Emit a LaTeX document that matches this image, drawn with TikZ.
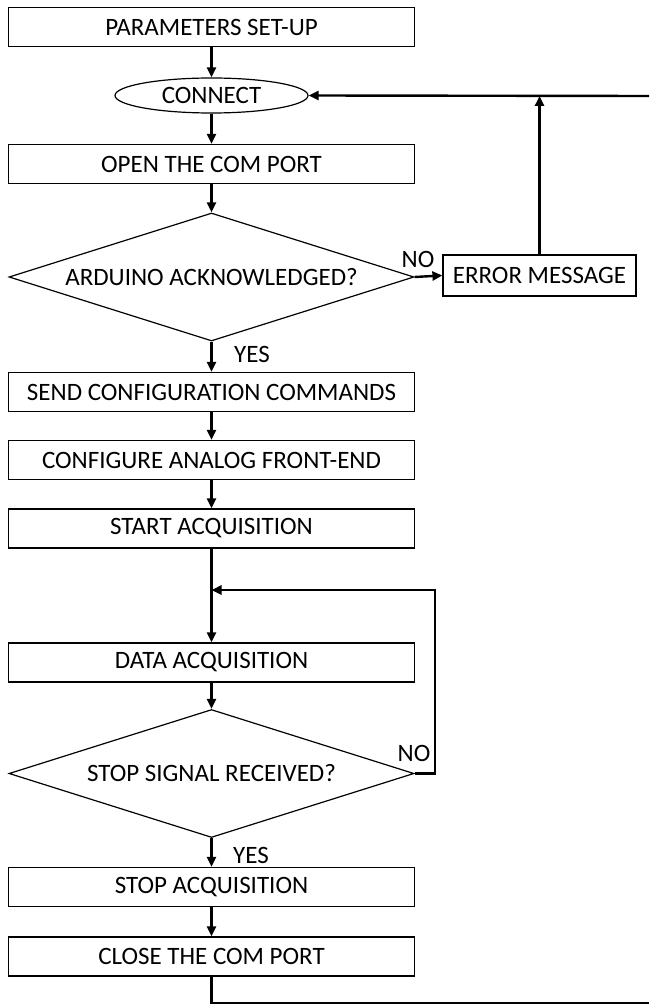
\documentclass[tikz,border=0pt]{standalone}
\usepackage{fontspec}
\setmainfont{Carlito}
\usetikzlibrary{shapes.geometric,arrows.meta}

\begin{document}
\begin{tikzpicture}[x=0.5pt,y=-0.5pt,
    font=\fontsize{12.5}{14}\selectfont,
    block/.style={draw, line width=0.6pt, minimum width=203pt, minimum height=19.5pt, inner sep=0pt},
    decision/.style={draw, diamond, aspect=3.16, line width=0.6pt, minimum width=202.5pt, minimum height=64pt, inner sep=0pt},
    startend/.style={draw, ellipse, line width=0.6pt, minimum width=96.5pt, minimum height=17.5pt, inner sep=0pt},
    flow/.style={line width=1.2pt, -{Triangle[length=5pt,width=4.5pt]}},
    link/.style={line width=1.2pt}]

      % Page frame
      \useasboundingbox (0,0) rectangle (649,1005);

      % Set-up and connection
      \node[block] (setup) at (211.5,27) {PARAMETERS SET-UP};
      \node[startend] (connect) at (211.5,95.5) {CONNECT};
      \node[block] (openport) at (211.5,164) {OPEN THE COM PORT};
      \node[decision] (ack) at (211.5,277) {ARDUINO ACKNOWLEDGED?};
      \node[block, minimum width=96.5pt, minimum height=20.5pt] (error) at (539.5,275.5) {ERROR MESSAGE};

      % Configuration
      \node[block] (send) at (211.5,392) {SEND CONFIGURATION COMMANDS};
      \node[block] (configure) at (211.5,460) {CONFIGURE ANALOG FRONT-END};
      \node[block] (start) at (211.5,528.5) {START ACQUISITION};

      % Acquisition loop
      \node[block] (data) at (211.5,662.5) {DATA ACQUISITION};
      \node[decision] (stopsig) at (211.5,773.5) {STOP SIGNAL RECEIVED?};
      \node[block] (stop) at (211.5,887) {STOP ACQUISITION};
      \node[block] (close) at (211.5,956.5) {CLOSE THE COM PORT};

      % Loose ends of the return lines
      \coordinate (retin) at (649,96);
      \coordinate (retout) at (649,1003);
      \coordinate (loopR) at (435,590);
      \coordinate (loopjoin) at (211.5,590);

      % Main flow
      \draw[flow] (setup) -- (connect);
      \draw[flow] (connect) -- (openport);
      \draw[flow] (openport) -- (ack);
      \draw[flow] (ack) -- (send);
      \draw[flow] (send) -- (configure);
      \draw[flow] (configure) -- (start);
      \draw[flow] (start) -- (data);
      \draw[flow] (data) -- (stopsig);
      \draw[flow] (stopsig) -- (stop);
      \draw[flow] (stop) -- (close);

      % Error branch
      \draw[flow] (ack.east) -- (error.west);
      \draw[flow] (error.north) -- (error.north |- retin);
      \draw[flow] (retin) -- (connect.east);

      % Waiting loop
      \draw[flow] (stopsig.east) -| (loopR) -- (loopjoin);

      % Back to the start
      \draw[link] (close.south) |- (retout);

      % Labels
      \node (no1) at (418,259) {NO};
      \node (yes1) at (252,354) {YES};
      \node (no2) at (414,753) {NO};
      \node (yes2) at (251,855) {YES};

\end{tikzpicture}
\end{document}
